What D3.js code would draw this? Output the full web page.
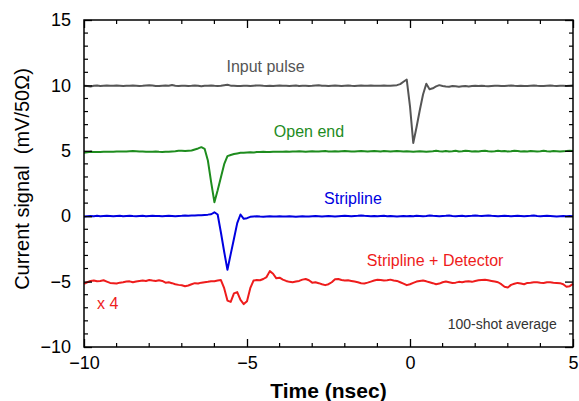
<!DOCTYPE html>
<html>
<head>
<meta charset="utf-8">
<script src="https://cdn.jsdelivr.net/npm/d3@7"></script>
<style>
  body { margin: 0; background: #fff; }
  svg { display: block; font-family: "Liberation Sans", Arial, sans-serif; }
</style>
</head>
<body>
<svg id="chart" width="579" height="401"></svg>
<script>
// time axis: one sample every 0.1 ns from -10 to 5 ns
const T_START = -10;
const T_STEP = 0.1;

// Input pulse (gray)
const inputPulse = [
  9.98, 9.95, 9.92, 9.98, 10.0, 9.96, 9.98, 10.0, 9.97, 9.98,
  10.0, 9.98, 9.96, 9.98, 9.97, 10.0, 9.98, 9.95, 9.97, 10.0,
  10.02, 10.0, 9.96, 9.95, 9.98, 10.0, 9.98, 10.03, 9.98, 9.95,
  9.97, 9.98, 9.96, 9.97, 10.0, 9.98, 9.94, 9.97, 9.98, 10.0,
  9.97, 9.95, 9.98, 10.02, 10.05, 9.98, 9.97, 9.95, 9.96, 9.98,
  9.97, 9.95, 9.98, 10.0, 10.0, 9.97, 9.96, 9.98, 9.95, 9.98,
  10.0, 9.98, 9.97, 9.95, 9.98, 10.0, 9.96, 9.97, 9.98, 9.95,
  9.97, 10.0, 10.02, 9.98, 9.97, 9.95, 9.98, 10.0, 9.98, 9.96,
  9.98, 10.0, 9.97, 9.95, 9.98, 10.0, 9.97, 9.98, 10.0, 9.98,
  9.97, 9.98, 10.0, 9.98, 9.97, 10.0, 10.02, 10.1, 10.28, 10.45,
  8.4, 5.6, 6.8, 8.1, 9.3, 10.12, 9.7, 9.78, 9.92, 10.02,
  9.95, 9.92, 9.9, 9.95, 9.93, 9.9, 9.93, 9.95, 9.92, 9.95,
  9.97, 9.95, 9.98, 9.95, 9.93, 9.95, 9.97, 9.98, 9.95, 9.96,
  9.98, 10.0, 9.97, 9.95, 9.98, 9.96, 9.95, 9.98, 10.0, 9.97,
  9.95, 9.96, 9.98, 10.0, 9.97, 9.95, 9.97, 9.98, 9.96, 9.98,
  10.0
];

// Open end (green)
const openEnd = [
  4.86, 4.88, 4.92, 4.9, 4.9, 4.9, 4.92, 4.92, 4.92, 4.93,
  4.95, 4.95, 4.95, 4.95, 4.97, 4.98, 4.97, 4.95, 4.95, 4.93,
  4.93, 4.92, 4.95, 4.92, 4.9, 4.93, 4.92, 4.95, 4.97, 5.0,
  5.0, 4.98, 5.0, 5.02, 5.1, 5.18, 5.28, 5.15, 4.26, 2.6,
  1.07, 1.98, 2.98, 3.98, 4.59, 4.68, 4.75, 4.8, 4.85, 4.85,
  4.87, 4.88, 4.87, 4.9, 4.9, 4.92, 4.9, 4.9, 4.92, 4.93,
  4.92, 4.93, 4.95, 4.93, 4.95, 4.95, 4.97, 4.95, 4.93, 4.95,
  4.97, 4.95, 4.95, 4.97, 4.98, 4.95, 4.95, 4.97, 4.95, 4.97,
  4.98, 4.97, 4.95, 4.95, 4.97, 4.98, 4.97, 4.95, 4.97, 4.98,
  4.97, 4.95, 4.98, 4.97, 4.95, 4.97, 4.98, 4.97, 4.95, 4.97,
  4.95, 4.93, 4.95, 4.97, 4.95, 4.93, 4.95, 4.97, 5.0, 4.97,
  4.95, 4.98, 4.95, 4.97, 5.0, 4.95, 4.97, 5.0, 4.98, 4.95,
  4.97, 4.95, 4.98, 5.0, 4.97, 4.95, 4.97, 5.0, 4.97, 4.98,
  4.95, 4.97, 5.0, 4.98, 4.95, 4.97, 4.95, 4.98, 4.97, 4.95,
  4.97, 5.0, 4.97, 4.95, 4.98, 4.97, 4.95, 4.97, 4.98, 5.0,
  4.98
];

// Stripline (blue)
const stripline = [
  -0.02, 0.0, 0.02, 0.0, 0.03, 0.0, 0.02, 0.04, 0.02, 0.0,
  0.02, 0.03, 0.0, 0.02, 0.03, 0.01, 0.0, 0.02, 0.03, 0.0,
  0.02, 0.03, 0.01, 0.02, 0.0, 0.02, 0.03, 0.02, 0.0, 0.02,
  0.03, 0.05, 0.04, 0.06, 0.05, 0.08, 0.07, 0.1, 0.12, 0.15,
  0.3, 0.13, -1.25, -2.72, -4.1, -2.9, -1.72, -0.53, 0.13, -0.2,
  -0.15, -0.05, -0.02, 0.0, -0.03, -0.05, -0.02, 0.0, -0.03, -0.02,
  0.0, -0.02, -0.03, 0.0, -0.02, -0.04, -0.02, 0.0, -0.02, -0.03,
  0.0, 0.02, 0.0, -0.02, 0.0, 0.02, 0.0, -0.02, 0.0, 0.02,
  0.03, 0.02, 0.0, 0.02, 0.03, 0.05, 0.03, 0.02, 0.0, 0.02,
  0.0, 0.02, 0.03, 0.0, 0.02, 0.0, -0.02, 0.0, 0.02, 0.0,
  0.02, 0.0, 0.03, 0.02, 0.0, 0.02, 0.05, 0.03, 0.02, 0.0,
  0.02, 0.03, 0.05, 0.02, 0.0, 0.02, 0.03, 0.0, 0.02, 0.03,
  0.05, 0.03, 0.02, 0.04, 0.05, 0.03, 0.02, 0.0, 0.02, 0.03,
  0.02, 0.0, 0.02, 0.03, 0.02, 0.0, 0.02, 0.03, 0.05, 0.02,
  0.0, 0.02, 0.03, 0.02, 0.0, -0.02, 0.0, 0.02, 0.0, 0.02,
  0.0
];

// Stripline + Detector (red, x4)
const striplineDetector = [
  -5.17, -5.05, -4.95, -4.92, -4.98, -4.95, -4.9, -5.0, -5.1, -5.12,
  -5.15, -5.08, -5.05, -5.0, -4.98, -5.05, -5.0, -4.95, -4.92, -4.95,
  -4.88, -4.92, -4.95, -4.9, -4.95, -5.08, -5.05, -5.12, -5.2, -5.25,
  -5.28, -5.35, -5.3, -5.2, -5.12, -5.15, -5.08, -5.05, -5.02, -4.98,
  -4.98, -4.92, -4.88, -5.5, -6.45, -6.55, -5.9, -5.8, -6.4, -6.72,
  -6.5, -5.5, -4.92, -4.88, -4.9, -4.8, -4.65, -4.2, -4.4, -4.75,
  -4.7, -4.85, -4.95, -5.02, -5.05, -5.0, -4.95, -4.85, -4.8, -4.9,
  -5.08, -5.05, -5.12, -5.2, -5.27, -5.2, -5.05, -4.82, -4.8, -4.88,
  -4.92, -4.9, -4.95, -5.0, -5.05, -5.12, -5.15, -5.08, -5.0, -4.92,
  -4.86, -4.88, -4.92, -4.9, -4.85, -4.92, -4.95, -5.05, -5.15, -5.27,
  -5.2, -5.1, -5.0, -4.95, -4.92, -4.98, -5.05, -5.12, -5.2, -5.15,
  -5.05, -5.0, -5.05, -5.1, -5.08, -5.02, -5.05, -5.0, -4.98, -5.02,
  -4.95, -4.9, -4.88, -4.86, -4.9, -4.95, -5.0, -5.05, -5.2, -5.4,
  -5.45, -5.25, -5.17, -5.1, -5.15, -5.2, -5.1, -5.08, -5.05, -5.05,
  -5.08, -5.1, -5.05, -5.05, -5.08, -5.1, -5.12, -5.2, -5.4, -5.35,
  -5.17
];

const xTicks = [-10, -5, 0, 5];
const yTicks = [-10, -5, 0, 5, 10, 15];

const series = [
  { values: inputPulse, color: '#555555' },
  { values: openEnd, color: '#1e8c1e' },
  { values: stripline, color: '#0000e0' },
  { values: striplineDetector, color: '#ee1c1c' }
];

// annotation anchors in data units
const labels = [
  { text: 'Input pulse', t: -4.43, v: 11.05, color: '#555555', anchor: 'middle', size: 16 },
  { text: 'Open end', t: -3.1, v: 6.03, color: '#1e8c1e', anchor: 'middle', size: 16 },
  { text: 'Stripline', t: -1.75, v: 0.93, color: '#0000e0', anchor: 'middle', size: 16 },
  { text: 'Stripline + Detector', t: 0.77, v: -3.81, color: '#ee1c1c', anchor: 'middle', size: 16 },
  { text: 'x 4', t: -9.6, v: -7.1, color: '#ee1c1c', anchor: 'start', size: 16 },
  { text: '100-shot average', t: 4.5, v: -8.65, color: '#333333', anchor: 'end', size: 14 }
];

const margin = { top: 20, right: 6, bottom: 54, left: 84 };
const width = 579, height = 401;

const svg = d3.select('#chart');

const x = d3.scaleLinear().domain([-10, 5]).range([margin.left, width - margin.right]);
const y = d3.scaleLinear().domain([-10, 15]).range([height - margin.bottom, margin.top]);

// traces
const line = d3.line()
  .x((d, i) => x(T_START + i * T_STEP))
  .y(d => y(d));

svg.append('g')
  .selectAll('path')
  .data(series)
  .join('path')
  .attr('d', d => line(d.values))
  .attr('fill', 'none')
  .attr('stroke', d => d.color)
  .attr('stroke-width', 2)
  .attr('stroke-linejoin', 'round');

// frame with inward ticks on all four sides
const minorX = d3.range(-10, 5.01, 1);
const minorY = d3.range(-10, 15.01, 1);

const bottomAxis = d3.axisBottom(x).tickValues(xTicks).tickSizeInner(-8).tickSizeOuter(0).tickPadding(9).tickFormat(d3.format('d'));
const leftAxis = d3.axisLeft(y).tickValues(yTicks).tickSizeInner(-8).tickSizeOuter(0).tickPadding(13).tickFormat(d3.format('d'));

function styleAxis(g) {
  g.select('.domain').remove();
  g.selectAll('line').attr('stroke', '#000').attr('stroke-width', 1.3);
  g.selectAll('text').attr('fill', '#000').style('font-size', '18px');
}

svg.append('g')
  .attr('transform', `translate(0,${height - margin.bottom})`)
  .call(bottomAxis)
  .call(styleAxis);
svg.append('g')
  .attr('transform', `translate(${margin.left},0)`)
  .call(leftAxis)
  .call(styleAxis);

svg.append('g')
  .attr('transform', `translate(0,${margin.top})`)
  .call(d3.axisTop(x).tickValues(xTicks).tickSizeInner(-8).tickSizeOuter(0).tickFormat(''))
  .call(styleAxis);
svg.append('g')
  .attr('transform', `translate(${width - margin.right},0)`)
  .call(d3.axisRight(y).tickValues(yTicks).tickSizeInner(-8).tickSizeOuter(0).tickFormat(''))
  .call(styleAxis);

// minor ticks
const minorG = svg.append('g').attr('stroke', '#000').attr('stroke-width', 1.2);
minorX.filter(v => !xTicks.includes(v)).forEach(v => {
  minorG.append('line').attr('x1', x(v)).attr('x2', x(v)).attr('y1', y(-10)).attr('y2', y(-10) - 4);
  minorG.append('line').attr('x1', x(v)).attr('x2', x(v)).attr('y1', y(15)).attr('y2', y(15) + 4);
});
minorY.filter(v => !yTicks.includes(v)).forEach(v => {
  minorG.append('line').attr('x1', x(-10)).attr('x2', x(-10) + 4).attr('y1', y(v)).attr('y2', y(v));
  minorG.append('line').attr('x1', x(5)).attr('x2', x(5) - 4).attr('y1', y(v)).attr('y2', y(v));
});

svg.append('rect')
  .attr('x', x(-10)).attr('y', y(15))
  .attr('width', x(5) - x(-10)).attr('height', y(-10) - y(15))
  .attr('fill', 'none').attr('stroke', '#000').attr('stroke-width', 1.5);

// annotations
svg.append('g')
  .selectAll('text')
  .data(labels)
  .join('text')
  .attr('x', d => x(d.t))
  .attr('y', d => y(d.v))
  .attr('text-anchor', d => d.anchor)
  .attr('fill', d => d.color)
  .style('font-size', d => d.size + 'px')
  .text(d => d.text);

// axis titles
svg.append('text')
  .attr('x', (x(-10) + x(5)) / 2)
  .attr('y', 398)
  .attr('text-anchor', 'middle')
  .style('font-size', '21px')
  .style('font-weight', 'bold')
  .text('Time (nsec)');

svg.append('text')
  .attr('transform', `translate(29,179) rotate(-90)`)
  .attr('text-anchor', 'middle')
  .style('font-size', '20px')
  .style('white-space', 'pre')
  .text('Current signal  (mV/50Ω)');
</script>
</body>
</html>
